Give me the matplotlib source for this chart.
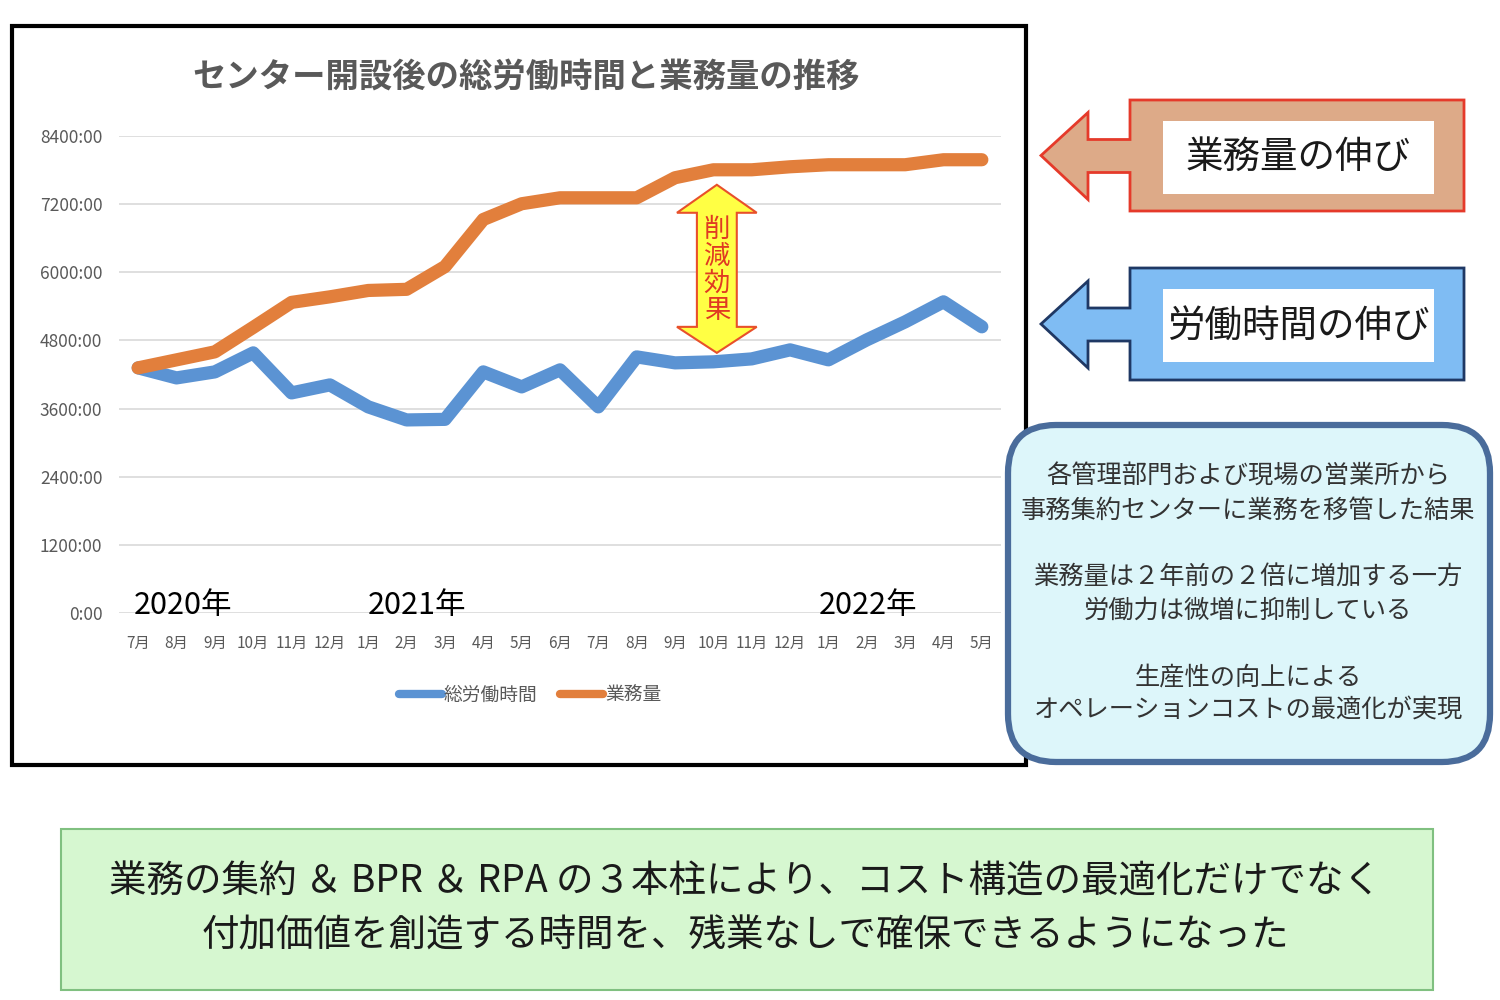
import matplotlib
matplotlib.use("Agg")
import matplotlib.pyplot as plt
from matplotlib.patches import Polygon, Rectangle, FancyBboxPatch

plt.rcParams['font.family'] = ['Noto Sans CJK JP', 'DejaVu Sans']

# data (hours per month)
months = ["7月", "8月", "9月", "10月", "11月", "12月",
          "1月", "2月", "3月", "4月", "5月", "6月", "7月", "8月", "9月", "10月", "11月", "12月",
          "1月", "2月", "3月", "4月", "5月"]
total_hours = [4317, 4140, 4246, 4581, 3876, 4017, 3630, 3400, 3410, 4246, 3982, 4282,
               3630, 4510, 4405, 4423, 4475, 4634, 4458, 4810, 5127, 5480, 5040]
workload = [4317, 4458, 4599, 5030, 5470, 5568, 5680, 5700, 6100, 6930, 7207, 7312,
            7312, 7312, 7665, 7805, 7805, 7858, 7894, 7894, 7894, 7982, 7982]
y_ticks = [0, 1200, 2400, 3600, 4800, 6000, 7200, 8400]
y_tick_labels = ["0:00", "1200:00", "2400:00", "3600:00", "4800:00", "6000:00", "7200:00", "8400:00"]
years = ["2020年", "2021年", "2022年"]
year_pos = [1.17, 7.27, 19.03]

title = "センター開設後の総労働時間と業務量の推移"
note_lines = ("各管理部門および現場の営業所から\n事務集約センターに業務を移管した結果\n\n"
              "業務量は２年前の２倍に増加する一方\n労働力は微増に抑制している\n\n"
              "生産性の向上による\nオペレーションコストの最適化が実現")
footer = ("業務の集約 ＆ BPR ＆ RPA の３本柱により、コスト構造の最適化だけでなく\n"
          "付加価値を創造する時間を、残業なしで確保できるようになった")

BLUE = '#5B93D3'
ORANGE = '#E27F3C'
GREY = '#595959'

fig = plt.figure(figsize=(15, 10), dpi=100)

# overlay in pixel coordinates for the decorations
bg = fig.add_axes([0, 0, 1, 1])
bg.set_xlim(0, 1500)
bg.set_ylim(1000, 0)
bg.axis('off')

# chart frame
bg.add_patch(Rectangle((12, 26), 1014, 739, fill=False, edgecolor='black', linewidth=3))

# left-pointing arrows with labels
def side_arrow(y_top, y_bot, fill, edge, label):
    mid = (y_top + y_bot) / 2
    pts = [(1041, mid), (1088, mid - 43), (1088, mid - 16), (1130, mid - 16),
           (1130, y_top), (1464, y_top), (1464, y_bot), (1130, y_bot),
           (1130, mid + 17), (1088, mid + 17), (1088, mid + 44)]
    bg.add_patch(Polygon(pts, closed=True, facecolor=fill, edgecolor=edge, linewidth=2))
    bg.add_patch(Rectangle((1163, y_top + 21), 271, 73, facecolor='white', edgecolor='none'))
    bg.text(1298, mid + 2, label, fontsize=27, ha='center', va='center', color='#1a1a1a')

side_arrow(100, 211, '#DDAA88', '#E53A2A', "業務量の伸び")
side_arrow(268, 380, '#7FBCF3', '#1F3864', "労働時間の伸び")

# note box
bg.add_patch(FancyBboxPatch((1008, 425), 482, 337, boxstyle="round,pad=0,rounding_size=48",
                            facecolor='#DDF6FA', edgecolor='#4A6C9B', linewidth=4.5, zorder=5))
bg.text(1248, 594, note_lines, fontsize=18.2, ha='center', va='center', color='#333333',
        linespacing=1.37, zorder=6)

# footer box
bg.add_patch(Rectangle((61, 829), 1372, 161, facecolor='#D6F7D0', edgecolor='#80C080', linewidth=1.5))
bg.text(745, 909, footer, fontsize=27, ha='center', va='center', color='#1a1a1a', linespacing=1.48)

# main chart
ax = fig.add_axes([119 / 1500, 1 - 613 / 1000, 882 / 1500, 477 / 1000])
ax.set_facecolor('none')
x = range(len(months))
ax.plot(x, total_hours, color=BLUE, linewidth=9.5, solid_capstyle='round',
        solid_joinstyle='round', label='総労働時間', zorder=3)
ax.plot(x, workload, color=ORANGE, linewidth=9.5, solid_capstyle='round',
        solid_joinstyle='round', label='業務量', zorder=3)

ax.set_xlim(-0.5, len(months) - 0.5)
ax.set_ylim(0, 8400)
ax.set_yticks(y_ticks)
ax.set_yticklabels(y_tick_labels)
ax.set_xticks(list(x))
ax.set_xticklabels(months)
ax.tick_params(axis='y', length=0, pad=12, labelsize=12.5, labelcolor=GREY)
ax.tick_params(axis='x', length=0, pad=16, labelsize=11, labelcolor=GREY)
ax.grid(axis='y', color='#D9D9D9', linewidth=1.2)
ax.set_axisbelow(True)
for s in ax.spines.values():
    s.set_visible(False)

for label, pos in zip(years, year_pos):
    ax.text(pos, 140, label, fontsize=22, ha='center', va='center', color='black')

# reduction effect double arrow
cx = 15.09
hw, sw = 1.04, 0.52
arrow_pts = [(cx, 7541), (cx + hw, 7048), (cx + sw, 7048), (cx + sw, 5039), (cx + hw, 5039),
             (cx, 4581), (cx - hw, 5039), (cx - sw, 5039), (cx - sw, 7048), (cx - hw, 7048)]
ax.add_patch(Polygon(arrow_pts, closed=True, facecolor='#FFFF44', edgecolor='#E8502A',
                     linewidth=1.5, zorder=4))
ax.text(cx, 6040, "削\n減\n効\n果", fontsize=19, ha='center', va='center', color='#E03A22',
        linespacing=1.0, zorder=5)

fig.text(526 / 1500, 1 - 77 / 1000, title, fontsize=24, fontweight='bold', color=GREY,
         ha='center', va='center')

leg = ax.legend(loc='center', bbox_to_anchor=(530 / 1500, 1 - 695 / 1000),
                bbox_transform=fig.transFigure, ncol=2, frameon=False, fontsize=13.5,
                handlelength=2.3, handletextpad=0.1, columnspacing=1.2, labelcolor=GREY)
for line in leg.get_lines():
    line.set_linewidth(6)

fig.savefig('out.png', dpi=100)
